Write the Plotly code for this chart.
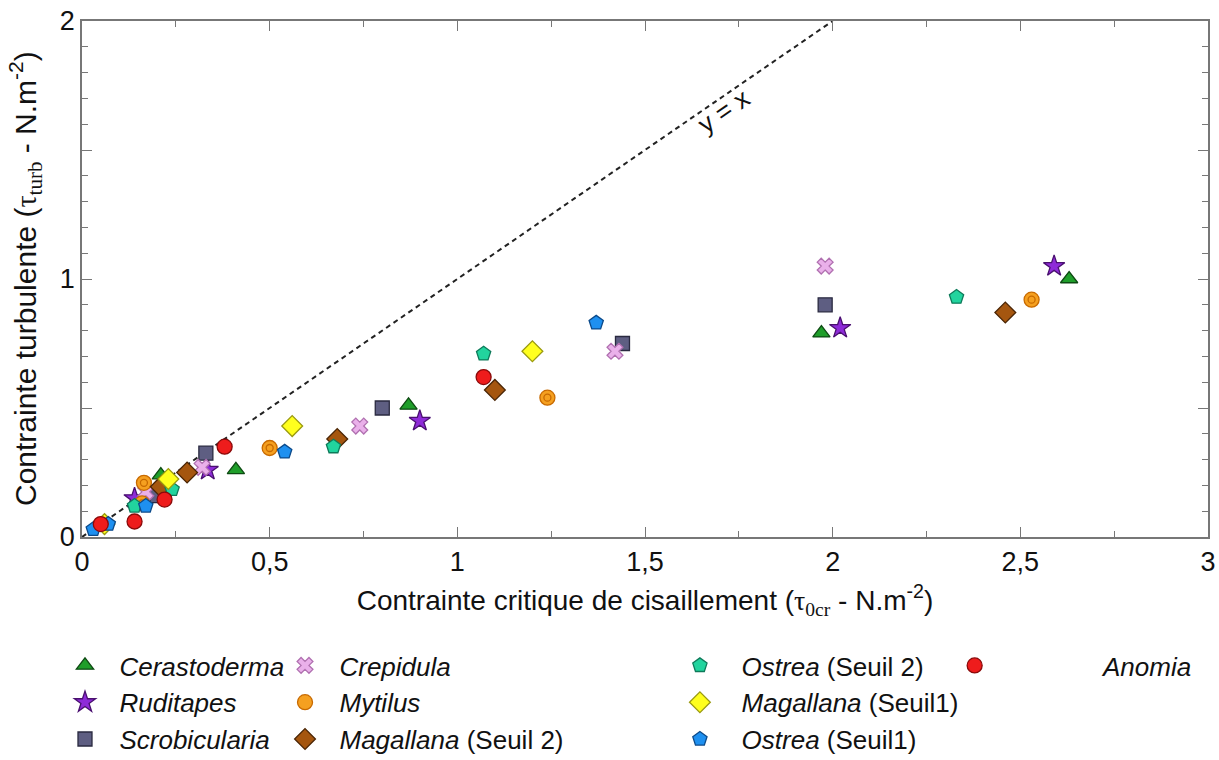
import plotly.graph_objects as go

# --- data (tau_0cr, tau_turb) ---
cerastoderma_x = [0.21, 0.41, 0.87, 1.97, 2.63]
cerastoderma_y = [0.24, 0.26, 0.51, 0.79, 1.00]
ruditapes_x = [0.14, 0.335, 0.90, 2.02, 2.59]
ruditapes_y = [0.15, 0.26, 0.45, 0.81, 1.05]
scrobicularia_x = [0.20, 0.33, 0.80, 1.44, 1.98]
scrobicularia_y = [0.16, 0.325, 0.50, 0.75, 0.90]
crepidula_x = [0.17, 0.32, 0.74, 1.42, 1.98]
crepidula_y = [0.175, 0.27, 0.43, 0.72, 1.05]
mytilus_x = [0.16, 0.165, 0.50, 1.24, 2.53]
mytilus_y = [0.13, 0.21, 0.345, 0.54, 0.92]
magallana2_x = [0.21, 0.28, 0.68, 1.10, 2.46]
magallana2_y = [0.195, 0.25, 0.38, 0.57, 0.87]
ostrea2_x = [0.14, 0.24, 0.67, 1.07, 2.33]
ostrea2_y = [0.12, 0.185, 0.35, 0.71, 0.93]
magallana1_x = [0.06, 0.23, 0.56, 1.20]
magallana1_y = [0.05, 0.225, 0.43, 0.72]
ostrea1_x = [0.03, 0.07, 0.17, 0.54, 1.37]
ostrea1_y = [0.03, 0.05, 0.12, 0.33, 0.83]
anomia_x = [0.05, 0.14, 0.22, 0.38, 1.07]
anomia_y = [0.05, 0.06, 0.145, 0.35, 0.62]

identity_x = [0, 2]
identity_y = [0, 2]

pad = "\u00a0\u00a0"

# name, x, y, symbol, fill, outline, size, legend
series = [
    (pad + "<i>Cerastoderma</i>", cerastoderma_x, cerastoderma_y, "triangle-up", "#1f9e2a", "#0d4a12", 15, "legend"),
    (pad + "<i>Ruditapes</i>", ruditapes_x, ruditapes_y, "star", "#8e2bd8", "#4a1070", 16, "legend"),
    (pad + "<i>Scrobicularia</i>", scrobicularia_x, scrobicularia_y, "square", "#5e5e82", "#2a2a40", 14, "legend"),
    (pad + "<i>Crepidula</i>", crepidula_x, crepidula_y, "x", "#eab0ea", "#b070b0", 14, "legend2"),
    (pad + "<i>Mytilus</i>", mytilus_x, mytilus_y, "circle", "#f5a020", "#c86a00", 15, "legend2"),
    (pad + "<i>Magallana</i> (Seuil 2)", magallana2_x, magallana2_y, "diamond", "#a5560f", "#4a2505", 16, "legend2"),
    (pad + "\u00a0<i>Ostrea</i> (Seuil 2)", ostrea2_x, ostrea2_y, "pentagon", "#22d49e", "#0e7a5a", 15, "legend3"),
    (pad + "\u00a0<i>Magallana</i> (Seuil1)", magallana1_x, magallana1_y, "diamond", "#ffff1e", "#9a9a10", 16, "legend3"),
    (pad + "\u00a0<i>Ostrea</i> (Seuil1)", ostrea1_x, ostrea1_y, "pentagon", "#1e90f0", "#0c4a8a", 15, "legend3"),
    ("\u00a0" * 15 + "<i>Anomia</i>", anomia_x, anomia_y, "circle", "#ee1c1c", "#8a0a0a", 15, "legend4"),
]

fig = go.Figure()

fig.add_trace(go.Scatter(x=identity_x, y=identity_y, mode="lines",
                         line=dict(color="#222", width=2, dash="5px,4px"),
                         showlegend=False, hoverinfo="skip"))

for name, xs, ys, sym, fill, edge, size, leg in series:
    fig.add_trace(go.Scatter(
        x=xs, y=ys, mode="markers", name=name, legend=leg,
        marker=dict(symbol=sym, size=size, color=fill, line=dict(color=edge, width=1.3)),
    ))
    if xs is mytilus_x:
        # inner ring of the Mytilus symbol
        fig.add_trace(go.Scatter(
            x=xs, y=ys, mode="markers", showlegend=False, hoverinfo="skip",
            marker=dict(symbol="circle", size=7, color=fill, line=dict(color=edge, width=1.3)),
        ))

fig.add_annotation(x=1.71, y=1.65, text="y = x", showarrow=False, textangle=-34.5,
                   font=dict(size=26, color="#111"))

tau0 = "<span style='font-family:Liberation Serif'>τ<sub>0cr</sub></span>"
tauturb = "<span style='font-family:Liberation Serif'>τ<sub>turb</sub></span>"

# y-axis title as a rotated annotation so it can sit close to the page edge
fig.add_annotation(xref="paper", yref="paper", x=-0.0506, y=0.5, xanchor="center", yanchor="middle",
                   text="Contrainte turbulente (" + tauturb + " - N.m<sup>-2</sup>)",
                   textangle=-90, showarrow=False, font=dict(size=30, color="#111"))

axis_common = dict(
    showline=True, linecolor="#777", linewidth=1.5, mirror="allticks",
    ticks="inside", tickcolor="#777", showgrid=False, zeroline=False,
    tickfont=dict(size=27, color="#111"), automargin=False,
)

fig.update_xaxes(range=[0, 3], dtick=0.5, ticklen=10,
                 minor=dict(dtick=0.25, ticks="inside", ticklen=6, tickcolor="#777"),
                 title=dict(text="Contrainte critique de cisaillement (" + tau0 + " - N.m<sup>-2</sup>)",
                            font=dict(size=28, color="#111"), standoff=14),
                 **axis_common)
fig.update_yaxes(range=[0, 2], tickvals=[0, 0.5, 1, 1.5, 2], ticktext=["0", "", "1", "", "2"], ticklen=10,
                 minor=dict(dtick=0.1, ticks="inside", ticklen=6, tickcolor="#777"),
                 **axis_common)

legend_style = dict(orientation="v", yanchor="top", y=-0.2035,
                    bgcolor="rgba(0,0,0,0)", font=dict(size=26, color="#111"),
                    tracegroupgap=0, itemclick=False)

fig.update_layout(
    width=1219, height=760,
    margin=dict(l=82, r=11, t=21, b=223, autoexpand=False),
    plot_bgcolor="white", paper_bgcolor="white",
    font=dict(family="Liberation Sans, Arial, sans-serif"),
    separators=", ",
    legend=dict(x=-0.0151, **legend_style),
    legend2=dict(x=0.1803, **legend_style),
    legend3=dict(x=0.531, **legend_style),
    legend4=dict(x=0.775, **legend_style),
)

# drop the page's default body margin so the figure sits at the window's corner
fig.write_html("out.html", config={"displayModeBar": False},
               post_script="document.body.style.margin='0';")
